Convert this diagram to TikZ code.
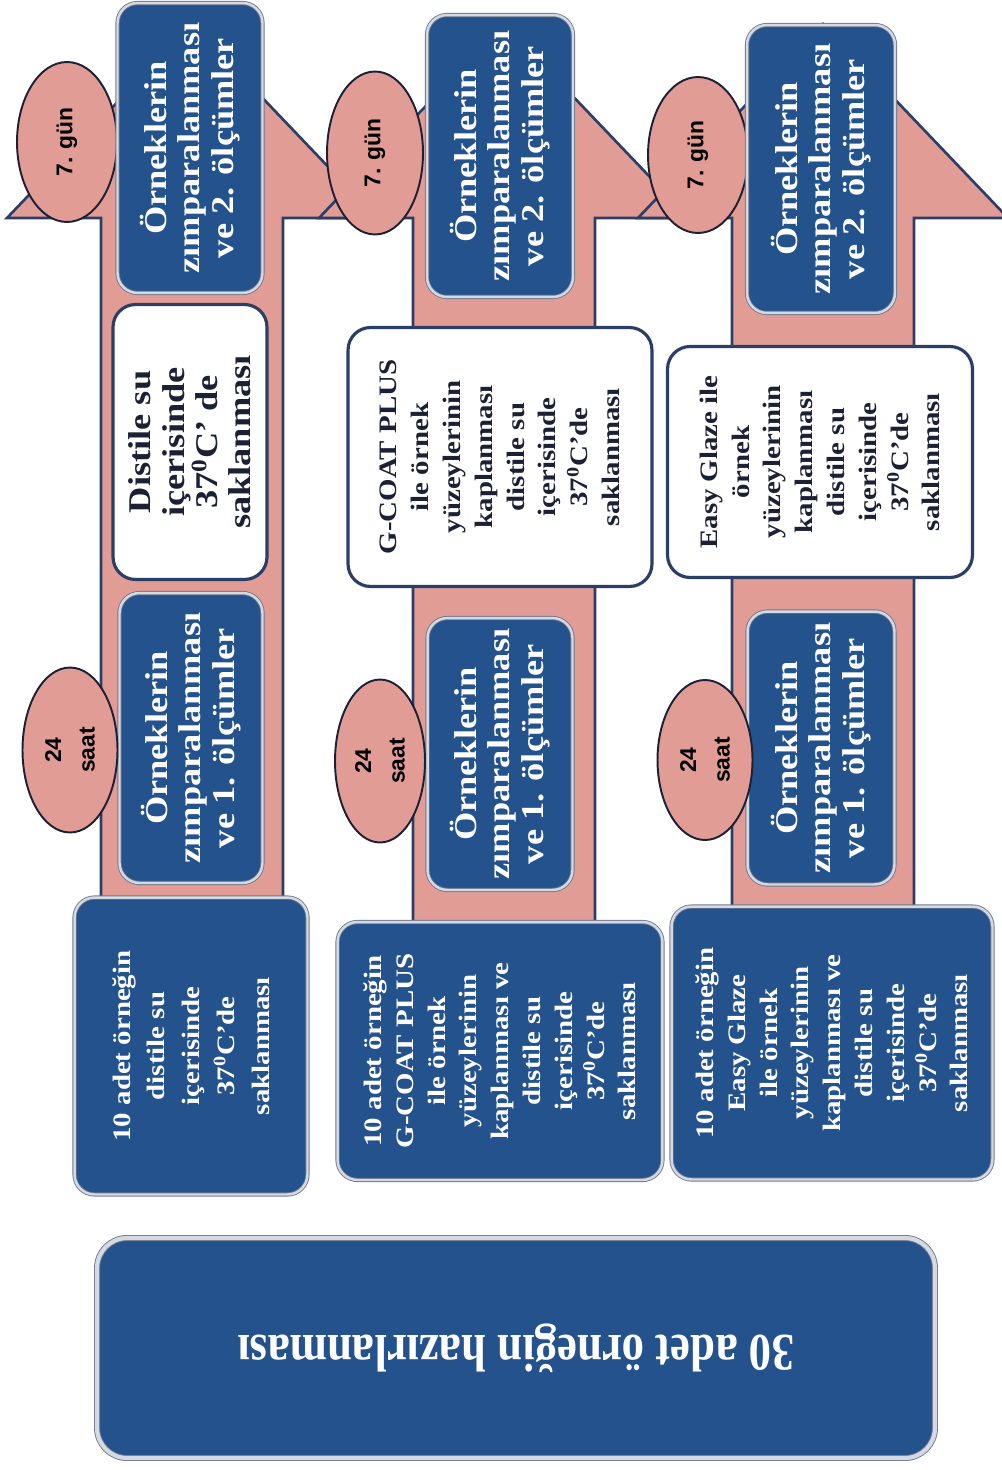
\documentclass[tikz,border=0pt]{standalone}
\usepackage{fontspec}
\setmainfont{Liberation Serif}
\newfontfamily\boxfont{Liberation Serif}[FakeStretch=1.15]
\newfontfamily\wideboxfont{Liberation Serif}[FakeStretch=0.85]
\newfontfamily\tagfont{Liberation Sans}
\usetikzlibrary{shapes.geometric}
\definecolor{arrowpink}{RGB}{226,156,150}
\definecolor{arrowline}{RGB}{42,62,102}
\definecolor{boxblue}{RGB}{36,82,140}
\definecolor{boxrim}{RGB}{212,217,226}
\definecolor{boxedge}{RGB}{110,120,140}
\definecolor{inkdark}{RGB}{28,32,52}
\tikzset{
  arrowbody/.style={fill=arrowpink,draw=arrowline,line width=1.5pt},
  bluebox/.style={rectangle,rounded corners=0.4cm,fill=boxblue,draw=boxedge,double=boxrim,double distance=1.4pt,line width=0.5pt,text=white,align=center,inner sep=0pt},
  stagebox/.style={bluebox,rotate=90},
  basebox/.style={bluebox,rotate=180},
  whitebox/.style={rectangle,rounded corners=0.45cm,fill=white,draw=arrowline,line width=1.8pt,text=inkdark,align=center,inner sep=0pt,rotate=90},
  timetag/.style={ellipse,fill=arrowpink,draw=inkdark,line width=1.1pt,inner sep=0pt,align=center,rotate=90,font=\tagfont\bfseries\fontsize{13}{19}\selectfont},
  bigtxt/.style={font=\boxfont\bfseries\fontsize{18}{19}\selectfont},
  smalltxt/.style={font=\boxfont\bfseries\fontsize{14.3}{18.1}\selectfont}
}
\begin{document}
\begin{tikzpicture}[x=0.02cm,y=-0.02cm]
\useasboundingbox (0,0) rectangle (1001,1470);
\foreach \c in {192,504,823}
  \draw[arrowbody] (\c-91,1000) -- (\c-91,218) -- (\c-185,218) -- (\c,24) -- (\c+185,218) -- (\c+91,218) -- (\c+91,1000) -- cycle;

\node[timetag,minimum width=3.2cm,minimum height=2cm] (dayA) at (67,142) {7. gün};
\node[stagebox,bigtxt,minimum width=5.8cm,minimum height=2.9cm] (secondA) at (190,148) {Örneklerin\\zımparalanması\\ve 2. ölçümler};
\node[whitebox,bigtxt,minimum width=5.5cm,minimum height=3.08cm] (keepA) at (190,442) {Distile su\\içerisinde\\37\textsuperscript{0}C’ de\\saklanması};
\node[stagebox,bigtxt,minimum width=5.8cm,minimum height=2.86cm] (firstA) at (191,738) {Örneklerin\\zımparalanması\\ve 1. ölçümler};
\node[timetag,minimum width=3.3cm,minimum height=1.9cm] (hourA) at (70,750) {24\\saat};
\node[stagebox,font=\boxfont\bfseries\fontsize{14.3}{19.8}\selectfont,minimum width=5.94cm,minimum height=4.66cm] (startA) at (191,1046) {10 adet örneğin\\distile su\\içerisinde\\37\textsuperscript{0}C’de\\saklanması};

\node[timetag,minimum width=3.26cm,minimum height=1.92cm] (dayB) at (375,153) {7. gün};
\node[stagebox,bigtxt,minimum width=5.64cm,minimum height=2.92cm] (secondB) at (500,156) {Örneklerin\\zımparalanması\\ve 2. ölçümler};
\node[whitebox,smalltxt,minimum width=5.18cm,minimum height=6.08cm] (keepB) at (500,457) {G-COAT PLUS\\ile örnek\\yüzeylerinin\\kaplanması\\distile su\\içerisinde\\37\textsuperscript{0}C’de\\saklanması};
\node[stagebox,bigtxt,minimum width=5.44cm,minimum height=2.9cm] (firstB) at (500,754) {Örneklerin\\zımparalanması\\ve 1. ölçümler};
\node[timetag,minimum width=3.26cm,minimum height=1.8cm] (hourB) at (380,761) {24\\saat};
\node[stagebox,smalltxt,minimum width=5.16cm,minimum height=6.5cm] (startB) at (500,1051) {10 adet örneğin\\G-COAT PLUS\\ile örnek\\yüzeylerinin\\kaplanması ve\\distile su\\içerisinde\\37\textsuperscript{0}C’de\\saklanması};

\node[timetag,minimum width=3.12cm,minimum height=2cm] (dayC) at (698,155) {7. gün};
\node[stagebox,bigtxt,minimum width=5.76cm,minimum height=2.96cm] (secondC) at (821,169) {Örneklerin\\zımparalanması\\ve 2. ölçümler};
\node[whitebox,smalltxt,minimum width=4.62cm,minimum height=6.1cm] (keepC) at (820,462) {Easy Glaze ile\\örnek\\yüzeylerinin\\kaplanması\\distile su\\içerisinde\\37\textsuperscript{0}C’de\\saklanması};
\node[stagebox,bigtxt,minimum width=5.46cm,minimum height=2.94cm] (firstC) at (821,748) {Örneklerin\\zımparalanması\\ve 1. ölçümler};
\node[timetag,minimum width=3.2cm,minimum height=1.9cm] (hourC) at (705,760) {24\\saat};
\node[stagebox,smalltxt,minimum width=5.46cm,minimum height=6.42cm] (startC) at (832,1043) {10 adet örneğin\\Easy Glaze\\ile örnek\\yüzeylerinin\\kaplanması ve\\distile su\\içerisinde\\37\textsuperscript{0}C’de\\saklanması};

\node[basebox,rounded corners=0.6cm,double distance=2.4pt,font=\wideboxfont\bfseries\fontsize{30}{34}\selectfont,minimum width=16.76cm,minimum height=4.4cm] (prepare) at (516,1348) {30 adet örneğin hazırlanması};
\end{tikzpicture}
\end{document}
